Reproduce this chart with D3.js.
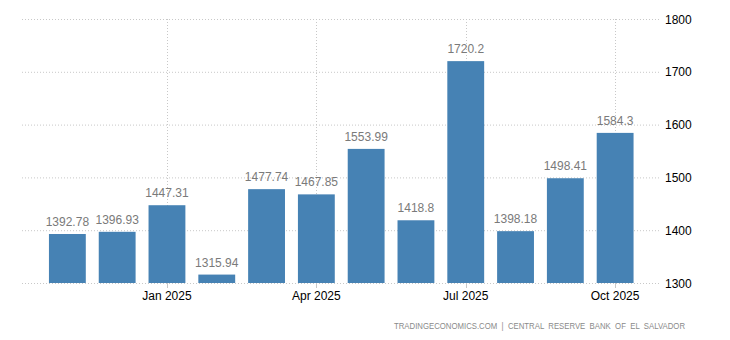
<!DOCTYPE html>
<html><head><meta charset="utf-8">
<script src="https://cdn.jsdelivr.net/npm/d3@7"></script>
<style>body{margin:0;background:#fff;}svg{display:block;font-family:"Liberation Sans",Arial,sans-serif;}</style>
</head><body>
<svg id="c" width="730" height="340"></svg>
<script>
const categories = ["Nov 2024","Dec 2024","Jan 2025","Feb 2025","Mar 2025","Apr 2025","May 2025","Jun 2025","Jul 2025","Aug 2025","Sep 2025","Oct 2025"];
const values = [1392.78,1396.93,1447.31,1315.94,1477.74,1467.85,1553.99,1418.8,1720.2,1398.18,1498.41,1584.3];
const valueLabels = ["1392.78","1396.93","1447.31","1315.94","1477.74","1467.85","1553.99","1418.8","1720.2","1398.18","1498.41","1584.3"];
const xTicks = ["Jan 2025","Apr 2025","Jul 2025","Oct 2025"];
const yTicks = [1300,1400,1500,1600,1700,1800];
const source = "TRADINGECONOMICS.COM  |  CENTRAL  RESERVE  BANK  OF  EL  SALVADOR";

const svg = d3.select("#c");
const x = d3.scaleBand().domain(categories).range([36, 646.5]).paddingInner(0.26).paddingOuter(0.26);
const y = d3.scaleLinear().domain([1300,1800]).range([283,19]);
const gx0 = 22, gx1 = 660;

// horizontal grid
svg.append("g").selectAll("line").data(yTicks).join("line")
  .attr("x1",gx0).attr("x2",gx1).attr("y1",d=>y(d)+0.5).attr("y2",d=>y(d)+0.5)
  .attr("stroke","#c8c8c8").attr("stroke-dasharray","1,2");
// vertical grid
svg.append("g").selectAll("line").data(xTicks).join("line")
  .attr("x1",d=>Math.round(x(d)+x.bandwidth()/2)+0.5).attr("x2",d=>Math.round(x(d)+x.bandwidth()/2)+0.5)
  .attr("y1",19).attr("y2",283)
  .attr("stroke","#c8c8c8").attr("stroke-dasharray","1,2");

// bars
svg.append("g").selectAll("rect").data(values).join("rect")
  .attr("x",(d,i)=>x(categories[i])).attr("width",x.bandwidth())
  .attr("y",d=>y(d)).attr("height",d=>y(1300)-y(d))
  .attr("fill","#4682b4");

// value labels
svg.append("g").selectAll("text").data(values).join("text")
  .attr("x",(d,i)=>x(categories[i])+x.bandwidth()/2).attr("y",d=>y(d)-8)
  .attr("text-anchor","middle").attr("font-size","12px").attr("fill","#7a7a7a")
  .text((d,i)=>valueLabels[i]);

// x axis ticks
const xa = svg.append("g");
xa.selectAll("line").data(xTicks).join("line")
  .attr("x1",d=>Math.round(x(d)+x.bandwidth()/2)+0.5).attr("x2",d=>Math.round(x(d)+x.bandwidth()/2)+0.5)
  .attr("y1",283).attr("y2",288).attr("stroke","#c8c8c8");
xa.selectAll("text").data(xTicks).join("text")
  .attr("x",d=>x(d)+x.bandwidth()/2).attr("y",300)
  .attr("text-anchor","middle").attr("font-size","12px").attr("fill","#000")
  .text(d=>d);

// y axis labels
svg.append("g").selectAll("text").data(yTicks).join("text")
  .attr("x",665).attr("y",d=>y(d)+4.5)
  .attr("font-size","12px").attr("fill","#000")
  .text(d=>d);

// source
svg.append("text").attr("x",394).attr("y",329)
  .attr("font-size","9px").attr("fill","#8a8a8a")
  .attr("textLength",291).attr("lengthAdjust","spacingAndGlyphs")
  .attr("xml:space","preserve").style("white-space","pre").text(source);
</script>
</body></html>
